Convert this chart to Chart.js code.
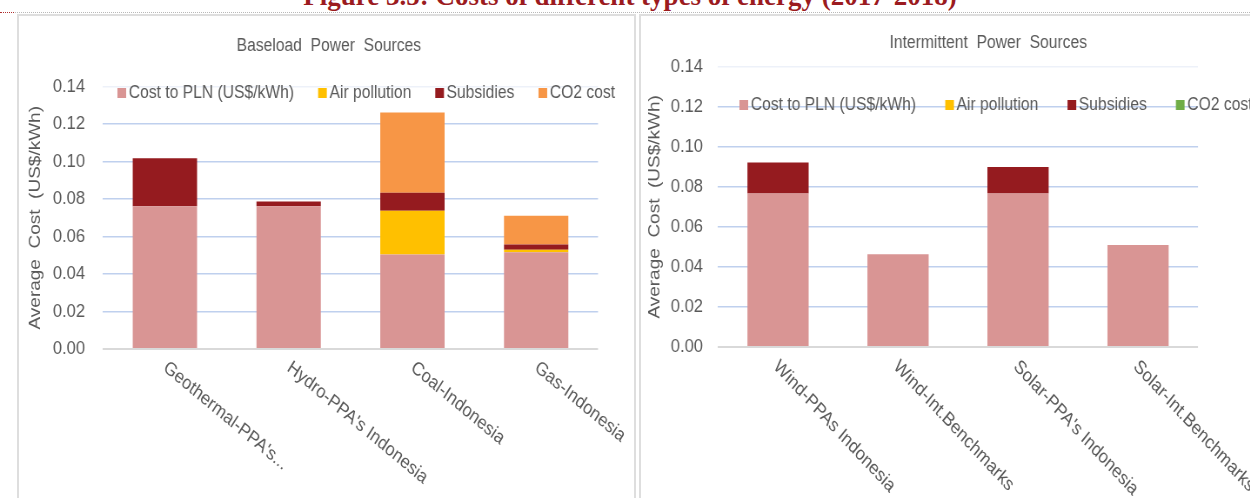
<!DOCTYPE html>
<html>
<head>
<meta charset="utf-8">
<script src="https://cdn.jsdelivr.net/npm/chart.js@4.4.1/dist/chart.umd.min.js"></script>
<style>
  html, body { margin: 0; padding: 0; background: #fff; overflow: hidden; }
  body { width: 1250px; height: 498px; position: relative; }
  #fig-title {
    position: absolute; left: 0; width: 1260px; top: -17px; text-align: center;
    font: bold 27px/27px "Liberation Serif", "Times New Roman", serif; color: #9B1B1F;
    white-space: nowrap;
  }
  #dots { position: absolute; left: 0; top: 12px; width: 1250px; border-top: 1px dotted #b9b9b9; }
  #dots-red { position: absolute; left: 0; top: 12px; width: 14px; border-top: 1px dotted #b03030; }
  .panel { position: absolute; top: 14px; height: 500px; box-sizing: border-box; border: 2px solid #dedede; border-bottom: none; }
  #panel-left { left: 17px; width: 619px; }
  #panel-right { left: 639px; width: 640px; }
  canvas { position: absolute; transform-origin: 0 0; transform: scaleX(0.87); }
  #baseChart { left: 20px; top: 17px; }
  #intChart { left: 642px; top: 17px; }
</style>
</head>
<body>
<div id="fig-title">Figure 3.5: Costs of different types of energy (2017-2018)</div>
<div id="dots"></div>
<div id="dots-red"></div>
<div class="panel" id="panel-left"></div>
<div class="panel" id="panel-right"></div>
<canvas id="baseChart" width="706" height="481"></canvas>
<canvas id="intChart" width="699" height="481"></canvas>

<script>
// ---- data ----
const seriesNames = ['Cost to PLN (US$/kWh)', 'Air pollution', 'Subsidies', 'CO2 cost'];

const baseCategories = ["Geothermal-PPA's...", "Hydro-PPA's Indonesia", 'Coal-Indonesia', 'Gas-Indonesia'];
const baseCost = [0.0762, 0.0762, 0.0504, 0.0516];
const baseAir = [0, 0, 0.0233, 0.0014];
const baseSubsidies = [0.0255, 0.0025, 0.0096, 0.0027];
const baseCO2 = [0, 0, 0.0428, 0.0154];

const intCategories = ['Wind-PPAs Indonesia', 'Wind-Int.Benchmarks', "Solar-PPA's Indonesia", 'Solar-Int.Benchmarks'];
const intCost = [0.0767, 0.0463, 0.0767, 0.0510];
const intAir = [0, 0, 0, 0];
const intSubsidies = [0.0155, 0, 0.0132, 0];
const intCO2 = [0, 0, 0, 0];

const yMax = 0.14;
const yStep = 0.02;

Chart.defaults.font.family = '"Liberation Sans", Arial, sans-serif';
Chart.defaults.color = '#595959';

// chart title, legend and slanted category labels drawn like the Excel original
const excelDecor = {
  id: 'excelDecor',
  afterDraw(chart, args, opts) {
    const ctx = chart.ctx;
    const xs = chart.scales.x;
    ctx.save();
    ctx.font = '18px "Liberation Sans", Arial, sans-serif';
    ctx.fillStyle = '#595959';

    // title
    ctx.textAlign = 'center';
    ctx.textBaseline = 'middle';
    ctx.fillText(opts.title, opts.titleX, opts.titleY);

    // legend inside the plot
    ctx.textAlign = 'left';
    let x = opts.legendX;
    chart.data.datasets.forEach(ds => {
      ctx.fillStyle = ds.backgroundColor;
      ctx.fillRect(x, opts.legendY - 5, 10, 10);
      x += 13;
      ctx.fillStyle = '#595959';
      ctx.fillText(ds.label, x, opts.legendY);
      x += ctx.measureText(ds.label).width + opts.legendGap;
    });

    // category labels reading down to the right
    ctx.font = '19px "Liberation Sans", Arial, sans-serif';
    ctx.textBaseline = 'top';
    chart.data.labels.forEach((lab, i) => {
      ctx.save();
      ctx.translate(xs.getPixelForValue(i) + opts.labelDx, chart.chartArea.bottom + opts.labelDy);
      ctx.rotate(opts.labelAngle * Math.PI / 180);
      ctx.fillText(lab, 0, 0);
      ctx.restore();
    });
    ctx.restore();
  }
};

function makeChart(id, labels, series, colors, lay) {
  const datasets = series.map((vals, i) => ({
    label: seriesNames[i],
    data: vals,
    backgroundColor: colors[i],
    borderWidth: 0,
    categoryPercentage: 1,
    barPercentage: lay.barPct
  }));
  return new Chart(document.getElementById(id), {
    type: 'bar',
    data: { labels: labels, datasets: datasets },
    plugins: [excelDecor],
    options: {
      responsive: false,
      animation: false,
      layout: { padding: { left: 0, top: lay.padTop, right: lay.padRight, bottom: lay.padBottom } },
      plugins: {
        legend: { display: false },
        tooltip: { enabled: false },
        title: { display: false },
        excelDecor: lay.decor
      },
      scales: {
        x: {
          stacked: true,
          grid: { display: false },
          border: { display: false },
          ticks: { display: false }
        },
        y: {
          stacked: true,
          min: 0,
          max: yMax,
          afterFit: s => { s.width = lay.axisWidth; },
          border: { display: false },
          grid: {
            drawTicks: false,
            color: c => c.tick.value === 0 ? '#d9d9d9' : (c.tick.value > yMax - 0.005 ? '#edf1f9' : '#bfd0ee'),
            lineWidth: c => c.tick.value === 0 ? 2 : 1.6
          },
          ticks: {
            stepSize: yStep,
            padding: lay.tickPad,
            color: '#595959',
            font: { size: 19 },
            callback: v => Number(v).toFixed(2)
          },
          title: {
            display: true,
            text: 'Average  Cost  (US$/kWh)',
            color: '#595959',
            font: { size: 19 },
            padding: { top: lay.yTitleTop, bottom: 0 }
          }
        }
      }
    }
  });
}

makeChart('baseChart', baseCategories,
  [baseCost, baseAir, baseSubsidies, baseCO2],
  ['#d99594', '#ffc000', '#951b1f', '#f79646'],
  {
    barPct: 0.52, padTop: 69.5, padRight: 41.6, padBottom: 141,
    axisWidth: 95.4, tickPad: 20.7, yTitleTop: 6,
    decor: {
      title: 'Baseload  Power  Sources', titleX: 355, titleY: 29,
      legendX: 112, legendY: 76, legendGap: 27.6,
      labelDx: 6, labelDy: 9, labelAngle: 36
    }
  });

makeChart('intChart', intCategories,
  [intCost, intAir, intSubsidies, intCO2],
  ['#d99594', '#ffc000', '#951b1f', '#70ad47'],
  {
    barPct: 0.51, padTop: 49.7, padRight: 59.9, padBottom: 143,
    axisWidth: 87.4, tickPad: 17.3, yTitleTop: 3.5,
    decor: {
      title: 'Intermittent  Power  Sources', titleX: 398, titleY: 26,
      legendX: 112, legendY: 88, legendGap: 33.5,
      labelDx: 4, labelDy: 10, labelAngle: 43
    }
  });
</script>
</body>
</html>
